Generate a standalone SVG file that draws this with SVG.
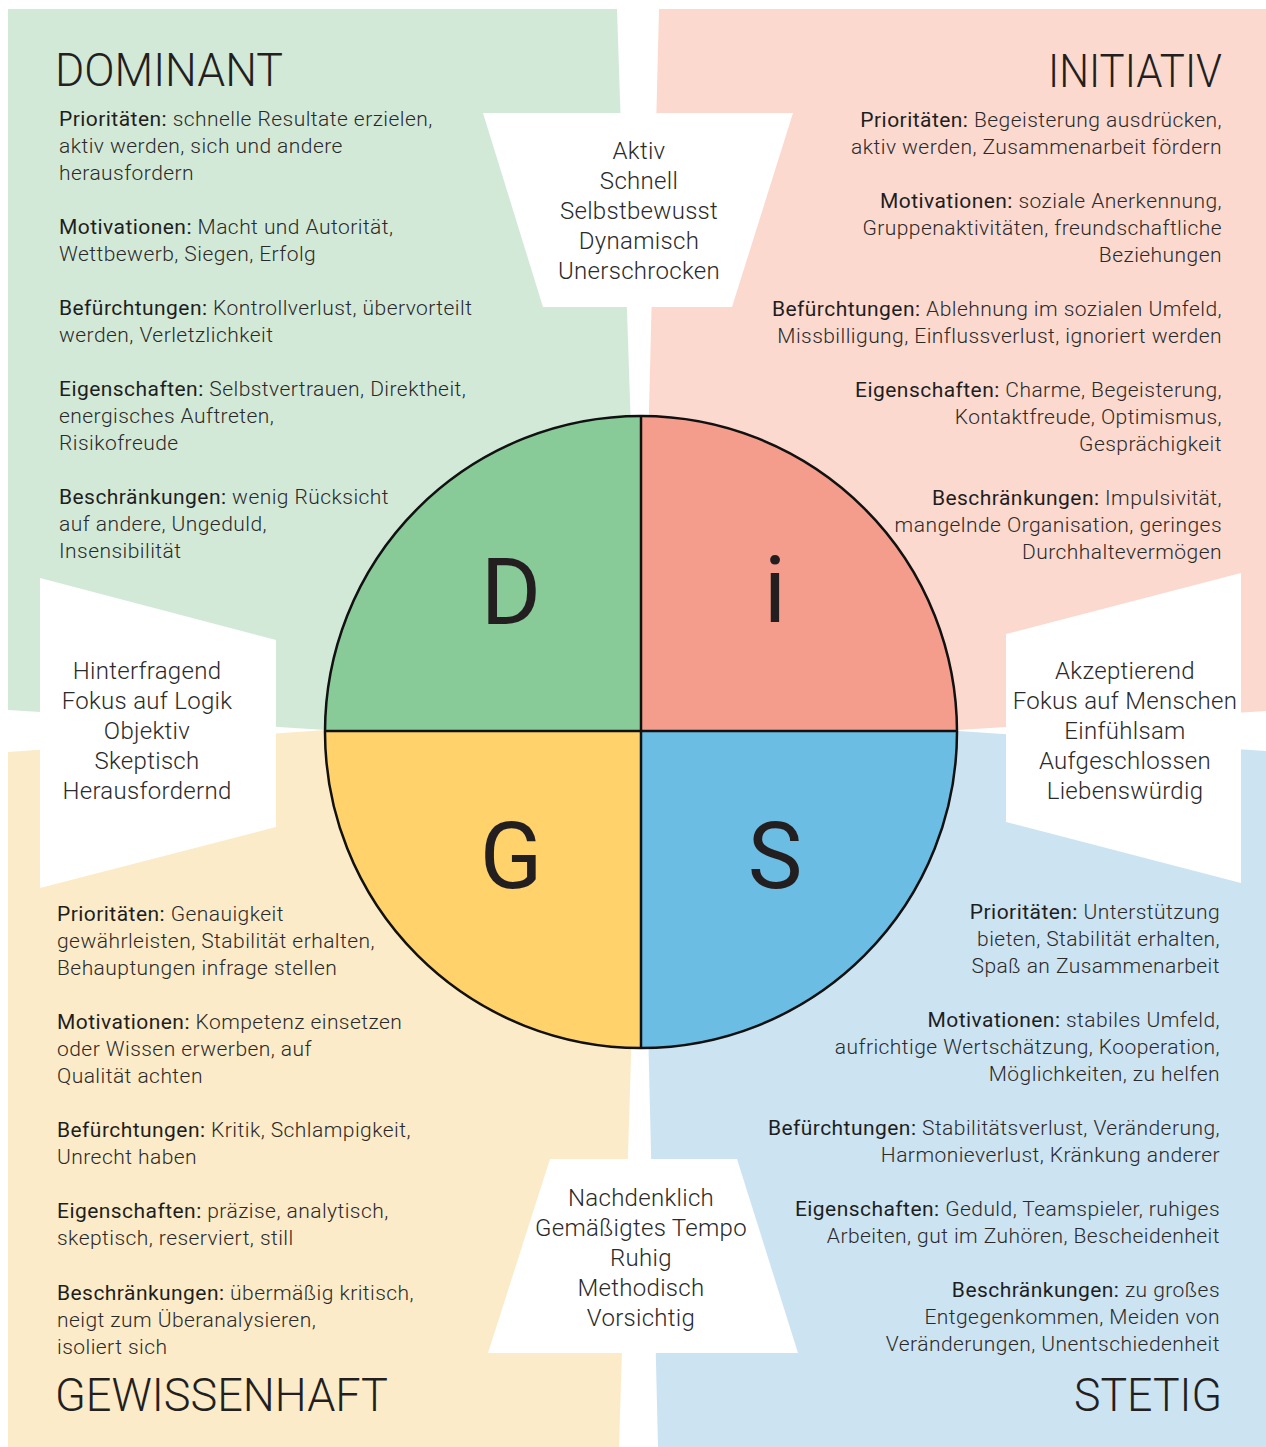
<svg xmlns="http://www.w3.org/2000/svg" width="1266" height="1447" viewBox="0 0 1266 1447">
<style>
text{font-family:Roboto,"Liberation Sans",Arial,sans-serif;fill:#2b2a2a}
.body{font-size:21px;font-weight:300;letter-spacing:0.45px}
.b{font-weight:400;fill:#1e1e1e}
.r{text-anchor:end}
.hd{font-size:46px;font-weight:300;fill:#231f20}
.tz{font-size:24px;font-weight:300;letter-spacing:0.3px;text-anchor:middle}
.big{font-size:92px;font-weight:400;text-anchor:middle;fill:#231f20}
.tr{fill:#ffffff}
</style>
<rect width="1266" height="1447" fill="#ffffff"/>
<g id="panel-dominant">
<polygon points="8,9 617,9 641,731 326,730 8,710" fill="#d3e9d8"/>
</g>
<g id="panel-initiativ">
<polygon points="659,9 1266,9 1266,711 958,730 641,731" fill="#fbd9cf"/>
</g>
<g id="panel-gewissenhaft">
<polygon points="8,752 326,730 641,731 619,1447 8,1447" fill="#fbebc8"/>
</g>
<g id="panel-stetig">
<polygon points="641,731 958,731 1266,751 1266,1447 658,1447" fill="#cce3f2"/>
</g>

<g id="trap-top">
<polygon class="tr" points="483,113 793,113 732,307 543,307"/>
<text class="tz"><tspan x="639" y="159">Aktiv</tspan><tspan x="639" y="189">Schnell</tspan><tspan x="639" y="219">Selbstbewusst</tspan><tspan x="639" y="249">Dynamisch</tspan><tspan x="639" y="279">Unerschrocken</tspan></text>
</g>
<g id="trap-left">
<polygon class="tr" points="40,578 276,640 276,827 40,888"/>
<text class="tz"><tspan x="147" y="679">Hinterfragend</tspan><tspan x="147" y="709">Fokus auf Logik</tspan><tspan x="147" y="739">Objektiv</tspan><tspan x="147" y="769">Skeptisch</tspan><tspan x="147" y="799">Herausfordernd</tspan></text>
</g>
<g id="trap-right">
<polygon class="tr" points="1006,634 1241,573 1241,883 1006,822"/>
<text class="tz"><tspan x="1125" y="679">Akzeptierend</tspan><tspan x="1125" y="709">Fokus auf Menschen</tspan><tspan x="1125" y="739">Einfühlsam</tspan><tspan x="1125" y="769">Aufgeschlossen</tspan><tspan x="1125" y="799">Liebenswürdig</tspan></text>
</g>
<g id="trap-bottom">
<polygon class="tr" points="550,1159 737,1159 798,1353 488,1353"/>
<text class="tz"><tspan x="641" y="1206">Nachdenklich</tspan><tspan x="641" y="1236">Gemäßigtes Tempo</tspan><tspan x="641" y="1266">Ruhig</tspan><tspan x="641" y="1296">Methodisch</tspan><tspan x="641" y="1326">Vorsichtig</tspan></text>
</g>

<g id="disc">
<path d="M641,732 L641,416 A316,316 0 0 0 325,732 Z" fill="#89cb98"/>
<path d="M641,732 L641,416 A316,316 0 0 1 957,732 Z" fill="#f49d8d"/>
<path d="M641,732 L325,732 A316,316 0 0 0 641,1048 Z" fill="#ffd26b"/>
<path d="M641,732 L957,732 A316,316 0 0 1 641,1048 Z" fill="#6bbde4"/>
<circle cx="641" cy="732" r="316" fill="none" stroke="#111" stroke-width="2.5"/>
<line x1="641" y1="416" x2="641" y2="1048" stroke="#111" stroke-width="2.5"/>
<line x1="325" y1="731" x2="957" y2="731" stroke="#111" stroke-width="2.5"/>
<text class="big" x="511" y="624">D</text>
<text class="big" x="775" y="622">i</text>
<text class="big" x="511" y="888">G</text>
<text class="big" x="775" y="888">S</text>
</g>

<g id="node-dominant">
<text class="hd" x="55" y="86" textLength="228" lengthAdjust="spacingAndGlyphs">DOMINANT</text>
<text class="body">
<tspan x="59" y="126"><tspan class="b">Prioritäten:</tspan> schnelle Resultate erzielen,</tspan>
<tspan x="59" y="153">aktiv werden, sich und andere</tspan>
<tspan x="59" y="180">herausfordern</tspan>
<tspan x="59" y="234"><tspan class="b">Motivationen:</tspan> Macht und Autorität,</tspan>
<tspan x="59" y="261">Wettbewerb, Siegen, Erfolg</tspan>
<tspan x="59" y="315"><tspan class="b">Befürchtungen:</tspan> Kontrollverlust, übervorteilt</tspan>
<tspan x="59" y="342">werden, Verletzlichkeit</tspan>
<tspan x="59" y="396"><tspan class="b">Eigenschaften:</tspan> Selbstvertrauen, Direktheit,</tspan>
<tspan x="59" y="423">energisches Auftreten,</tspan>
<tspan x="59" y="450">Risikofreude</tspan>
<tspan x="59" y="504"><tspan class="b">Beschränkungen:</tspan> wenig Rücksicht</tspan>
<tspan x="59" y="531">auf andere, Ungeduld,</tspan>
<tspan x="59" y="558">Insensibilität</tspan>
</text>
</g>

<g id="node-initiativ">
<text class="hd r" x="1222" y="87" textLength="174" lengthAdjust="spacingAndGlyphs">INITIATIV</text>
<text class="body r" x="1222" y="127"><tspan class="b">Prioritäten:</tspan> Begeisterung ausdrücken,</text>
<text class="body r" x="1222" y="154">aktiv werden, Zusammenarbeit fördern</text>
<text class="body r" x="1222" y="208"><tspan class="b">Motivationen:</tspan> soziale Anerkennung,</text>
<text class="body r" x="1222" y="235">Gruppenaktivitäten, freundschaftliche</text>
<text class="body r" x="1222" y="262">Beziehungen</text>
<text class="body r" x="1222" y="316"><tspan class="b">Befürchtungen:</tspan> Ablehnung im sozialen Umfeld,</text>
<text class="body r" x="1222" y="343">Missbilligung, Einflussverlust, ignoriert werden</text>
<text class="body r" x="1222" y="397"><tspan class="b">Eigenschaften:</tspan> Charme, Begeisterung,</text>
<text class="body r" x="1222" y="424">Kontaktfreude, Optimismus,</text>
<text class="body r" x="1222" y="451">Gesprächigkeit</text>
<text class="body r" x="1222" y="505"><tspan class="b">Beschränkungen:</tspan> Impulsivität,</text>
<text class="body r" x="1222" y="532">mangelnde Organisation, geringes</text>
<text class="body r" x="1222" y="559">Durchhaltevermögen</text>
</g>

<g id="node-gewissenhaft">
<text class="body">
<tspan x="57" y="921"><tspan class="b">Prioritäten:</tspan> Genauigkeit</tspan>
<tspan x="57" y="948">gewährleisten, Stabilität erhalten,</tspan>
<tspan x="57" y="975">Behauptungen infrage stellen</tspan>
<tspan x="57" y="1029"><tspan class="b">Motivationen:</tspan> Kompetenz einsetzen</tspan>
<tspan x="57" y="1056">oder Wissen erwerben, auf</tspan>
<tspan x="57" y="1083">Qualität achten</tspan>
<tspan x="57" y="1137"><tspan class="b">Befürchtungen:</tspan> Kritik, Schlampigkeit,</tspan>
<tspan x="57" y="1164">Unrecht haben</tspan>
<tspan x="57" y="1218"><tspan class="b">Eigenschaften:</tspan> präzise, analytisch,</tspan>
<tspan x="57" y="1245">skeptisch, reserviert, still</tspan>
<tspan x="57" y="1300"><tspan class="b">Beschränkungen:</tspan> übermäßig kritisch,</tspan>
<tspan x="57" y="1327">neigt zum Überanalysieren,</tspan>
<tspan x="57" y="1354">isoliert sich</tspan>
</text>
<text class="hd" x="55" y="1411" textLength="333" lengthAdjust="spacingAndGlyphs">GEWISSENHAFT</text>
</g>

<g id="node-stetig">
<text class="body r" x="1220" y="919"><tspan class="b">Prioritäten:</tspan> Unterstützung</text>
<text class="body r" x="1220" y="946">bieten, Stabilität erhalten,</text>
<text class="body r" x="1220" y="973">Spaß an Zusammenarbeit</text>
<text class="body r" x="1220" y="1027"><tspan class="b">Motivationen:</tspan> stabiles Umfeld,</text>
<text class="body r" x="1220" y="1054">aufrichtige Wertschätzung, Kooperation,</text>
<text class="body r" x="1220" y="1081">Möglichkeiten, zu helfen</text>
<text class="body r" x="1220" y="1135"><tspan class="b">Befürchtungen:</tspan> Stabilitätsverlust, Veränderung,</text>
<text class="body r" x="1220" y="1162">Harmonieverlust, Kränkung anderer</text>
<text class="body r" x="1220" y="1216"><tspan class="b">Eigenschaften:</tspan> Geduld, Teamspieler, ruhiges</text>
<text class="body r" x="1220" y="1243">Arbeiten, gut im Zuhören, Bescheidenheit</text>
<text class="body r" x="1220" y="1297"><tspan class="b">Beschränkungen:</tspan> zu großes</text>
<text class="body r" x="1220" y="1324">Entgegenkommen, Meiden von</text>
<text class="body r" x="1220" y="1351">Veränderungen, Unentschiedenheit</text>
<text class="hd r" x="1222" y="1411" textLength="148" lengthAdjust="spacingAndGlyphs">STETIG</text>
</g>
</svg>
